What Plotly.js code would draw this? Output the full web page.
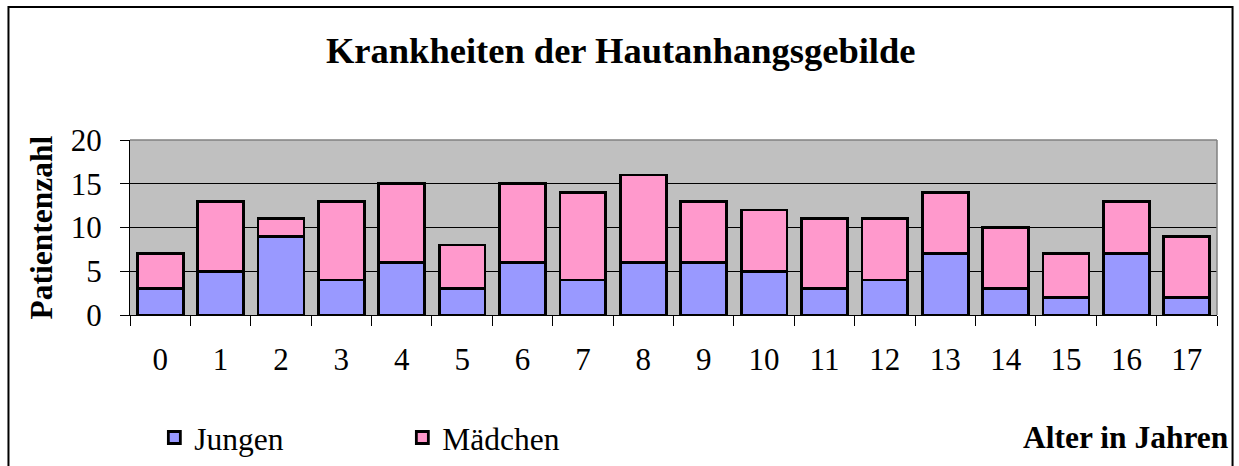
<!DOCTYPE html>
<html>
<head>
<meta charset="utf-8">
<script src="https://cdn.plot.ly/plotly-3.0.1.min.js"></script>
<style>
html,body{margin:0;padding:0;background:#fff;}
#chart{width:1239px;height:466px;}
</style>
</head>
<body>
<div id="chart"></div>
<script>
const ages = ['0','1','2','3','4','5','6','7','8','9','10','11','12','13','14','15','16','17'];
const jungen = [3,5,9,4,6,3,6,4,6,6,5,3,4,7,3,2,7,2];
const maedchen = [4,8,2,9,9,5,9,10,10,7,7,8,7,7,7,5,6,7];
const yTicks = [0,5,10,15,20];
const serif = '"Liberation Serif", "Times New Roman", serif';

const traces = [
  {type:'bar', name:'Jungen', x:ages, y:jungen,
   marker:{color:'#9999FF', line:{color:'#000', width:2.8}}},
  {type:'bar', name:'Mädchen', x:ages, y:maedchen,
   marker:{color:'#FF99CC', line:{color:'#000', width:2.8}}}
];

const layout = {
  width:1239, height:466,
  margin:{l:130, r:22, t:140, b:151, autoexpand:false},
  barmode:'stack', bargap:0.24,
  paper_bgcolor:'#fff', plot_bgcolor:'#C0C0C0',
  font:{family:serif, size:31, color:'#000'},
  title:{text:'<b>Krankheiten der Hautanhangsgebilde</b>', font:{family:serif, size:36.5, color:'#000'},
         x:0.501, xref:'container', xanchor:'center', y:0.893, yref:'container', yanchor:'middle'},
  xaxis:{type:'category', tickson:'boundaries', ticks:'outside', ticklen:10, tickcolor:'#000', tickwidth:1,
         showline:true, linecolor:'#000', linewidth:1, showgrid:false, zeroline:false,
         ticklabelstandoff:17, tickfont:{family:serif, size:31}},
  yaxis:{range:[0,20], tickvals:yTicks, ticktext:yTicks.map(String), ticks:'outside', ticklen:9, tickcolor:'#000',
         showline:true, linecolor:'#000', linewidth:1, showgrid:true, gridcolor:'#000', gridwidth:1,
         zeroline:false, ticklabelstandoff:12, tickfont:{family:serif, size:31}},
  showlegend:true,
  legend:{orientation:'h', x:0.0224, xanchor:'left', y:-0.70, yanchor:'middle',
          entrywidth:203, entrywidthmode:'pixels', traceorder:'normal',
          font:{family:serif, size:31.5}, bgcolor:'rgba(0,0,0,0)'},
  annotations:[
    {text:'<b>Patientenzahl</b>', textangle:-90, xref:'paper', yref:'paper', x:-0.081, y:0.5,
     xanchor:'center', yanchor:'middle', showarrow:false, font:{family:serif, size:31.5}},
    {text:'<b>Alter in Jahren</b>', xref:'paper', yref:'paper', x:1.013, y:-0.70,
     xanchor:'right', yanchor:'middle', showarrow:false, font:{family:serif, size:31.5}}
  ],
  shapes:[
    {type:'line', xref:'paper', yref:'paper', x0:0, x1:1, y0:1, y1:1, line:{color:'#808080', width:1.5}, layer:'above'},
    {type:'line', xref:'paper', yref:'paper', x0:1, x1:1, y0:0, y1:1, line:{color:'#808080', width:1.5}, layer:'above'},
    {type:'rect', xref:'paper', yref:'paper', x0:-0.1118, x1:1.0143, y0:-0.95, y1:1.76, line:{color:'#000', width:2}, fillcolor:'rgba(0,0,0,0)'}
  ]
};

Plotly.newPlot('chart', traces, layout, {displayModeBar:false, staticPlot:true});
</script>
</body>
</html>
